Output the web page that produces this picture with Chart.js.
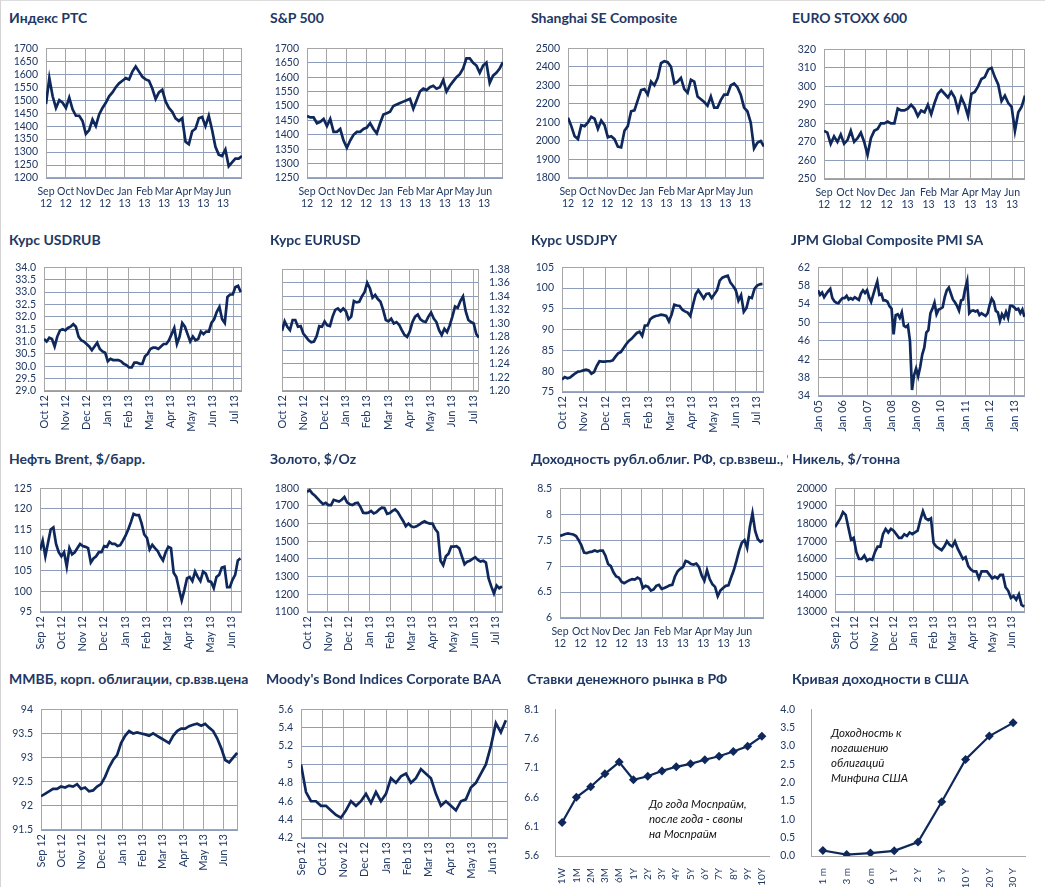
<!DOCTYPE html>
<html lang="ru">
<head>
<meta charset="UTF-8">
<title>Рынки: обзор</title>
<script src="https://cdn.jsdelivr.net/npm/chart.js"></script>
<style>
  body { margin: 0; background: #fff; }
  #page { position: relative; width: 1045px; height: 887px; overflow: hidden; background: #fff;
          border-left: 1px solid #d4d4d4; border-top: 1px solid #dcdcdc; box-sizing: border-box; }
  .title { position: absolute; font-family: Lato, sans-serif; font-weight: bold; font-size: 14px;
           color: #1F3864; white-space: nowrap; overflow: hidden; }
  .note { position: absolute; font-family: Lato, sans-serif; font-style: italic; font-size: 11.5px;
          color: #111; line-height: 15px; }
  canvas { position: absolute; }
</style>
</head>
<body>
<div id="page"></div>
<script>
// ---- axis labels ----
const sepMonths2 = [['Sep','12'],['Oct','12'],['Nov','12'],['Dec','12'],['Jan','13'],['Feb','13'],['Mar','13'],['Apr','13'],['May','13'],['Jun','13']];
const sepMonths = ['Sep 12','Oct 12','Nov 12','Dec 12','Jan 13','Feb 13','Mar 13','Apr 13','May 13','Jun 13'];
const octMonths = ['Oct 12','Nov 12','Dec 12','Jan 13','Feb 13','Mar 13','Apr 13','May 13','Jun 13','Jul 13'];
const pmiYears = ['Jan 05','Jan 06','Jan 07','Jan 08','Jan 09','Jan 10','Jan 11','Jan 12','Jan 13'];

// ---- series ----
const rtsValues = [1485,1585,1515,1470,1500,1490,1470,1510,1465,1440,1440,1420,1370,1385,1425,1400,1445,1470,1490,1515,
  1530,1550,1565,1575,1585,1580,1610,1630,1610,1590,1580,1575,1545,1505,1530,1540,1495,1470,1455,1430,
  1420,1430,1340,1330,1380,1390,1430,1435,1400,1440,1385,1320,1290,1285,1310,1245,1260,1275,1275,1285];
const rtsTicks = [1200,1250,1300,1350,1400,1450,1500,1550,1600,1650,1700];

const spxValues = [1465,1460,1460,1440,1445,1455,1430,1455,1410,1410,1420,1380,1355,1380,1400,1410,1410,1420,1425,1440,
  1420,1405,1440,1470,1475,1480,1500,1505,1510,1515,1520,1525,1490,1520,1550,1560,1555,1565,1570,1560,
  1565,1590,1550,1570,1585,1600,1610,1630,1665,1665,1650,1640,1615,1640,1650,1580,1605,1615,1630,1652];
const spxTicks = [1250,1300,1350,1400,1450,1500,1550,1600,1650,1700];

const shValues = [2125,2080,2025,2010,2085,2080,2100,2130,2120,2065,2110,2085,2020,2025,2010,1970,1965,2055,2080,2160,
  2165,2220,2275,2280,2250,2320,2300,2340,2420,2430,2425,2400,2310,2320,2340,2280,2260,2330,2320,2240,
  2225,2210,2190,2240,2180,2180,2220,2250,2250,2300,2310,2290,2250,2180,2160,2100,1960,1990,2000,1970];
const shTicks = [1800,1900,2000,2100,2200,2300,2400,2500];

const stoxxValues = [276,275,269,273,270,274,269,271,276,270,272,275,270,263,272,276,277,280,280,281,
  280,280,288,287,287,288,290,288,284,287,286,290,285,291,296,298,296,294,297,294,
  287,294,290,284,296,297,300,304,305,309,310,305,301,292,295,291,289,276,286,289,295];
const stoxxTicks = [250,260,270,280,290,300,310,320];

const rubValues = [31.1,31.0,31.15,31.1,30.8,31.2,31.45,31.5,31.45,31.55,31.6,31.7,31.6,31.2,31.05,31.0,30.9,30.8,30.65,30.8,
  30.95,30.7,30.6,30.55,30.2,30.3,30.25,30.25,30.25,30.2,30.1,30.05,29.95,29.95,30.15,30.15,30.1,30.1,30.4,30.5,
  30.7,30.75,30.75,30.7,30.8,30.9,30.9,31.05,31.3,31.55,30.9,31.2,31.75,31.6,31.3,31.0,31.2,31.05,31.1,31.4,
  31.3,31.4,31.4,31.75,31.9,32.2,32.4,31.9,31.75,32.8,32.9,32.9,33.2,33.25,33.0];
const rubTicks = [29,29.5,30,30.5,31,31.5,32,32.5,33,33.5,34];

const eurValues = [1.289,1.303,1.295,1.290,1.305,1.305,1.295,1.296,1.285,1.280,1.275,1.272,1.273,1.281,1.296,1.295,1.303,1.297,1.296,1.310,
  1.320,1.322,1.318,1.322,1.318,1.306,1.310,1.333,1.331,1.332,1.340,1.346,1.360,1.352,1.338,1.342,1.336,1.332,1.320,1.305,
  1.303,1.307,1.300,1.302,1.298,1.290,1.283,1.280,1.288,1.302,1.310,1.313,1.306,1.303,1.302,1.310,1.316,1.307,1.302,1.290,
  1.283,1.292,1.287,1.297,1.310,1.325,1.323,1.333,1.340,1.318,1.305,1.302,1.300,1.284,1.279];
const eurTicks = [1.20,1.22,1.24,1.26,1.28,1.30,1.32,1.34,1.36,1.38];

const jpyValues = [78.0,78.6,78.3,78.5,79.0,79.5,79.9,80.0,80.2,80.4,80.2,79.4,79.8,81.3,82.4,82.3,82.3,82.4,82.4,82.6,
  83.5,84.3,84.6,85.5,86.5,87.3,87.8,88.5,89.2,89.5,88.5,91.0,91.0,92.5,93.0,93.3,93.4,93.6,93.5,93.3,
  92.0,93.6,96.0,95.8,95.7,94.8,94.4,94.1,93.3,96.0,98.5,99.5,98.5,97.5,98.6,98.7,97.6,98.5,99.5,101.8,
  102.5,102.8,103.0,101.3,100.5,99.5,97.0,98.3,94.3,95.2,97.8,97.6,99.8,100.6,100.9,101.0];
const jpyTicks = [75,80,85,90,95,100,105];

const pmiValues = [
  57.0,56.0,56.5,55.5,56.2,56.8,57.3,55.3,54.6,54.3,54.2,54.8,
  55.3,55.3,55.8,55.0,55.3,55.0,55.5,55.2,54.9,56.3,57.0,56.4,
  57.0,55.5,54.5,56.0,57.5,58.9,56.0,56.2,54.8,54.8,54.5,53.5,
  53.0,47.4,51.6,51.8,51.0,52.2,49.3,49.0,49.4,46.0,35.3,38.5,
  40.0,38.3,40.3,43.0,44.5,47.8,48.3,52.0,53.0,54.3,51.8,52.8,
  53.0,53.3,55.5,57.0,57.6,56.3,55.0,54.4,53.6,52.6,54.8,55.0,
  57.3,59.0,52.0,52.5,52.6,52.4,52.6,51.6,52.0,51.7,51.4,52.0,
  53.8,55.2,54.5,52.5,52.2,50.3,51.8,51.0,52.3,51.0,53.6,53.6,
  53.3,52.8,53.0,52.0,52.8,51.2];
const pmiTicks = [34,38,42,46,50,54,58,62];

const brentValues = [110,112.3,108.5,111.8,115,115.5,111.5,109.5,108.5,109.5,106,110.5,109,109.5,110.5,111.5,111,110.8,110.5,107,
  108,108.5,109.5,109.5,111,110.8,112,111.5,111.5,111,111.2,112.3,113.5,115,116.8,118.8,118.5,118.5,116.5,113.8,
  113,110.2,111.3,110.5,109.8,108.5,107.5,109.5,110.8,110.5,104.5,103.5,100.5,97.8,100.3,103.2,103.5,102.5,104.8,103.5,
  102.5,104.8,104.3,102.5,102.3,100.8,103.5,104,105.8,106,101,101,102.8,104,107.5,108];
const brentTicks = [95,100,105,110,115,120,125];

const goldValues = [1780,1790,1770,1758,1742,1725,1710,1718,1705,1705,1735,1730,1725,1735,1750,1720,1710,1705,1715,1718,
  1695,1662,1660,1662,1672,1658,1665,1680,1690,1688,1655,1660,1672,1680,1665,1640,1615,1585,1600,1585,
  1580,1585,1595,1605,1613,1605,1600,1600,1570,1550,1390,1365,1415,1430,1470,1470,1472,1460,1415,1370,
  1385,1390,1400,1410,1395,1385,1390,1380,1290,1245,1205,1250,1235,1245];
const goldTicks = [1100,1200,1300,1400,1500,1600,1700,1800];

const ofzValues = [7.58,7.6,7.62,7.63,7.62,7.61,7.58,7.5,7.4,7.26,7.25,7.27,7.28,7.3,7.28,7.3,7.3,7.2,7.04,7.0,
  6.88,6.8,6.78,6.7,6.67,6.7,6.73,6.75,6.74,6.78,6.75,6.58,6.62,6.6,6.53,6.55,6.62,6.64,6.56,6.58,
  6.6,6.63,6.64,6.8,6.9,6.95,6.98,7.1,7.08,7.04,7.03,7.05,6.98,6.82,6.72,6.92,6.75,6.65,6.6,6.42,
  6.53,6.58,6.62,6.63,6.78,6.92,7.1,7.3,7.45,7.5,7.35,7.75,8.02,7.68,7.52,7.47,7.5];
const ofzTicks = [6,6.5,7,7.5,8,8.5];

const nickelValues = [17800,18050,18300,18650,18500,17800,17100,17200,16400,16000,16000,16200,15900,16000,15950,16400,16700,16700,17400,17700,
  17500,17700,17600,17400,17200,17200,17400,17300,17500,17400,17500,17600,18200,18700,18300,18200,18300,16900,16700,16600,
  16500,16700,17000,16800,16700,17000,16600,16300,16000,16100,15600,15400,15300,15300,14900,15300,15300,15300,15100,14900,
  15000,14900,15100,15100,14400,14200,13800,13900,13700,14000,13400,13300];
const nickelTicks = [13000,14000,15000,16000,17000,18000,19000,20000];

const micexBondValues = [92.2,92.25,92.3,92.35,92.35,92.4,92.38,92.42,92.4,92.45,92.35,92.38,92.3,92.32,92.4,92.45,92.6,92.8,92.95,93.05,
  93.3,93.45,93.55,93.5,93.52,93.5,93.48,93.45,93.5,93.45,93.4,93.35,93.3,93.45,93.55,93.6,93.6,93.65,93.68,93.7,
  93.66,93.7,93.62,93.55,93.4,93.2,92.95,92.9,93.0,93.1];
const micexBondTicks = [91.5,92,92.5,93,93.5,94];

const baaValues = [5.0,4.7,4.6,4.6,4.55,4.55,4.5,4.45,4.42,4.5,4.6,4.55,4.6,4.68,4.58,4.7,4.6,4.68,4.85,4.8,
  4.87,4.9,4.8,4.85,4.95,4.9,4.85,4.68,4.55,4.6,4.55,4.5,4.6,4.62,4.75,4.8,4.9,5.0,5.2,5.45,5.35,5.48];
const baaTicks = [4.2,4.4,4.6,4.8,5.0,5.2,5.4,5.6];

const mmTerms = ['1W','1M','2M','3M','6M','1Y','2Y','3Y','4Y','5Y','6Y','7Y','8Y','9Y','10Y'];
const mmRates = [6.17,6.6,6.78,7.0,7.2,6.9,6.96,7.05,7.12,7.17,7.24,7.3,7.38,7.47,7.64];
const mmTicks = [5.6,6.1,6.6,7.1,7.6,8.1];

const ustTerms = ['1 m','3 m','6 m','1 Y','2 Y','5 Y','10 Y','20 Y','30 Y'];
const ustYields = [0.15,0.04,0.08,0.14,0.38,1.48,2.63,3.27,3.63];
const ustTicks = [0,0.5,1,1.5,2,2.5,3,3.5,4];

// ---- drawing ----
Chart.defaults.font.family = 'Lato, sans-serif';
Chart.defaults.color = '#1F3864';
const LINE = '#0F285C';
const GRID_H = '#8D9DBB';
const GRID_V = '#A6A6A6';
const page = document.getElementById('page');

const frame = {
  id: 'frame',
  beforeDatasetsDraw(chart, args, opts) {
    if (!opts.on) return;
    const {ctx, chartArea: a} = chart;
    ctx.save();
    ctx.strokeStyle = GRID_V;
    ctx.lineWidth = 1;
    ctx.strokeRect(Math.round(a.left) + 0.5, Math.round(a.top) + 0.5, Math.round(a.width) - 1, Math.round(a.height) - 1);
    ctx.restore();
  }
};

function addTitle(text, x, y, w) {
  const d = document.createElement('div');
  d.className = 'title';
  d.textContent = text;
  d.style.left = x + 'px';
  d.style.top = y + 'px';
  if (w) d.style.width = w + 'px';
  page.appendChild(d);
}

function addNote(lines, x, y) {
  const d = document.createElement('div');
  d.className = 'note';
  d.innerHTML = lines.join('<br>');
  d.style.left = x + 'px';
  d.style.top = y + 'px';
  page.appendChild(d);
}

function makeCanvas(plot, right) {
  const [l, t, r, b] = plot;
  const axisW = 50, side = 18, padT = 8, padB = 50;
  const c = document.createElement('canvas');
  c.width = r - l + axisW + side;
  c.height = b - t + padT + padB;
  c.style.left = (right ? l - side : l - axisW) + 'px';
  c.style.top = (t - padT) + 'px';
  page.appendChild(c);
  return {c, axisW, side, padT, padB};
}

function timePanel(p) {
  const box = makeCanvas(p.plot, p.right);
  const n = p.values.length;
  const pts = p.values.map((v, i) => ({x: p.end * i / (n - 1), y: v}));
  const rot = p.rotate ? 90 : 0;
  new Chart(box.c, {
    type: 'line',
    data: {datasets: [{data: pts, borderColor: LINE, borderWidth: 2.7, pointRadius: 0, tension: 0}]},
    options: {
      responsive: false,
      animation: false,
      layout: {padding: {top: box.padT, bottom: 0, left: p.right ? box.side : 0, right: p.right ? 0 : box.side}},
      plugins: {legend: {display: false}, tooltip: {enabled: false}, frame: {on: true}},
      scales: {
        x: {
          type: 'linear', min: 0, max: p.xMax,
          afterBuildTicks: s => { s.ticks = p.xLabels.map((_, i) => ({value: i})); },
          afterFit: s => { s.height = box.padB; },
          grid: {color: GRID_V, drawTicks: false},
          border: {display: false},
          ticks: {autoSkip: false, minRotation: rot, maxRotation: rot, padding: p.rotate ? 4 : 7,
                  font: {size: p.rotate ? 11 : 10.5}, callback: (v, i) => p.xLabels[i]}
        },
        y: {
          position: p.right ? 'right' : 'left',
          min: p.yTicks[0], max: p.yTicks[p.yTicks.length - 1],
          afterBuildTicks: s => { s.ticks = p.yTicks.map(v => ({value: v})); },
          afterFit: s => { s.width = box.axisW; },
          grid: {color: GRID_H, drawTicks: false},
          border: {display: false},
          ticks: {autoSkip: false, padding: p.right ? 10 : 8, font: {size: 10.5}, callback: v => p.fmt(v)}
        }
      }
    },
    plugins: [frame]
  });
}

function curvePanel(p) {
  const box = makeCanvas(p.plot, false);
  new Chart(box.c, {
    type: 'line',
    data: {labels: p.labels, datasets: [{data: p.values, borderColor: LINE, backgroundColor: LINE, borderWidth: 2.2,
      pointStyle: 'rectRot', pointRadius: 4.5, pointBorderWidth: 0, tension: 0}]},
    options: {
      responsive: false,
      animation: false,
      layout: {padding: {top: box.padT, bottom: 0, left: 0, right: box.side}},
      plugins: {legend: {display: false}, tooltip: {enabled: false}},
      scales: {
        x: {
          type: 'category', offset: true,
          afterFit: s => { s.height = box.padB; },
          grid: {display: false},
          border: {display: true, color: GRID_V},
          ticks: {autoSkip: false, minRotation: 90, maxRotation: 90, padding: 4, font: {size: 10}}
        },
        y: {
          min: p.yTicks[0], max: p.yTicks[p.yTicks.length - 1],
          afterBuildTicks: s => { s.ticks = p.yTicks.map(v => ({value: v})); },
          afterFit: s => { s.width = box.axisW; },
          grid: {display: false},
          border: {display: true, color: GRID_V},
          ticks: {autoSkip: false, padding: 8, font: {size: 10.5}, callback: v => v.toFixed(1)}
        }
      }
    }
  });
}

const plain = v => String(+v.toFixed(2));
const one = v => v.toFixed(1);
const two = v => v.toFixed(2);

// row 1
addTitle('Индекс РТС', 8, 8);
timePanel({plot: [45, 41, 241, 177], values: rtsValues, end: 9.96, xMax: 9.96, xLabels: sepMonths2, yTicks: rtsTicks, fmt: plain});
addTitle('S&P 500', 269, 8);
timePanel({plot: [306, 41, 502, 177], values: spxValues, end: 9.96, xMax: 9.96, xLabels: sepMonths2, yTicks: spxTicks, fmt: plain});
addTitle('Shanghai SE Composite', 530, 8);
timePanel({plot: [567, 41, 763, 177], values: shValues, end: 9.96, xMax: 9.96, xLabels: sepMonths2, yTicks: shTicks, fmt: plain});
addTitle('EURO STOXX 600', 791, 8);
timePanel({plot: [823, 42, 1024, 178], values: stoxxValues, end: 9.62, xMax: 9.62, xLabels: sepMonths2, yTicks: stoxxTicks, fmt: plain});

// row 2
addTitle('Курс USDRUB', 8, 230);
timePanel({plot: [43, 260, 241, 390], values: rubValues, end: 9.32, xMax: 9.38, xLabels: octMonths, rotate: true, yTicks: rubTicks, fmt: one});
addTitle('Курс EURUSD', 269, 230);
timePanel({plot: [281, 260, 478, 390], values: eurValues, end: 9.28, xMax: 9.28, xLabels: octMonths, rotate: true, right: true, yTicks: eurTicks, fmt: two});
addTitle('Курс USDJPY', 530, 230);
timePanel({plot: [561, 260, 763, 391], values: jpyValues, end: 9.27, xMax: 9.34, xLabels: octMonths, rotate: true, yTicks: jpyTicks, fmt: plain});
addTitle('JPM Global Composite PMI SA', 790, 230);
timePanel({plot: [817, 260, 1024, 395], values: pmiValues, end: 101 / 12, xMax: 8.44, xLabels: pmiYears, rotate: true, yTicks: pmiTicks, fmt: plain});

// row 3
addTitle('Нефть Brent, $/барр.', 8, 449);
timePanel({plot: [39, 481, 241, 611], values: brentValues, end: 9.43, xMax: 9.5, xLabels: sepMonths, rotate: true, yTicks: brentTicks, fmt: plain});
addTitle('Золото, $/Oz', 269, 449);
timePanel({plot: [306, 481, 502, 611], values: goldValues, end: 9.3, xMax: 9.35, xLabels: octMonths, rotate: true, yTicks: goldTicks, fmt: plain});
addTitle('Доходность рубл.облиг. РФ, ср.взвеш., %', 530, 449, 257);
timePanel({plot: [559, 481, 763, 617], values: ofzValues, end: 9.93, xMax: 9.97, xLabels: sepMonths2, yTicks: ofzTicks, fmt: plain});
addTitle('Никель, $/тонна', 791, 449);
timePanel({plot: [834, 481, 1024, 611], values: nickelValues, end: 9.64, xMax: 9.68, xLabels: sepMonths, rotate: true, yTicks: nickelTicks, fmt: plain});

// row 4
addTitle('ММВБ, корп. облигации, ср.взв.цена', 8, 669);
timePanel({plot: [40, 702, 237, 829], values: micexBondValues, end: 9.66, xMax: 9.7, xLabels: sepMonths, rotate: true, yTicks: micexBondTicks, fmt: plain});
addTitle("Moody's Bond Indices Corporate BAA", 265, 669);
timePanel({plot: [300, 702, 507, 837], values: baaValues, end: 9.62, xMax: 9.72, xLabels: sepMonths, rotate: true, yTicks: baaTicks, fmt: plain});
addTitle('Ставки денежного рынка в РФ', 526, 669);
curvePanel({plot: [554, 702, 768, 855], labels: mmTerms, values: mmRates, yTicks: mmTicks});
addNote(['До года Моспрайм,', 'после года - свопы', 'на Моспрайм'], 648, 795);
addTitle('Кривая доходности в США', 791, 669);
curvePanel({plot: [810, 702, 1024, 855], labels: ustTerms, values: ustYields, yTicks: ustTicks});
addNote(['Доходность к', 'погашению', 'облигаций', 'Минфина США'], 830, 724);
</script>
</body>
</html>
